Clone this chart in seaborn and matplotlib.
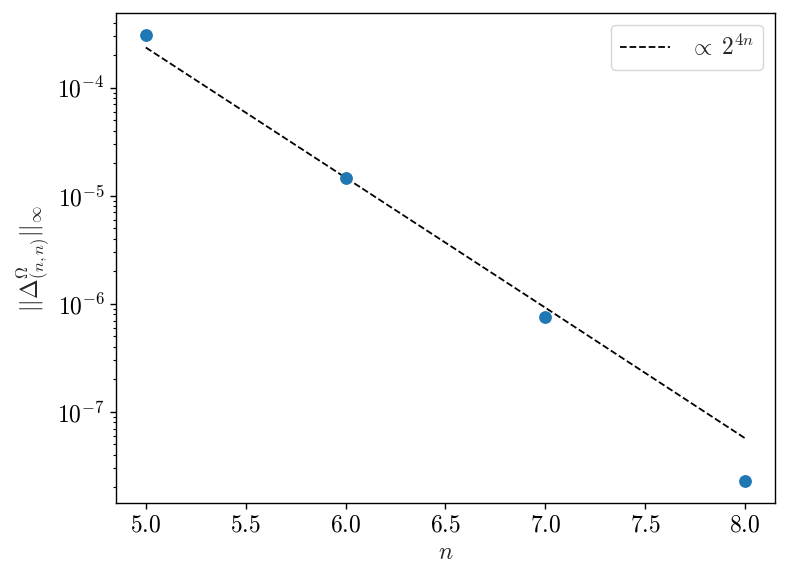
import numpy as np
import pandas as pd
import matplotlib
matplotlib.use("Agg")
import matplotlib.pyplot as plt
import seaborn as sns

# Datos.
n_vals = [5, 6, 7, 8]
error_inf = [3.06e-4, 1.46e-5, 7.6e-7, 2.3e-8]
ajuste = [2.35e-4, 1.47e-5, 9.2e-7, 5.7e-8]

df = pd.DataFrame({"n": n_vals, "error": error_inf, "ajuste": ajuste})

sns.set_style("ticks", {"axes.edgecolor": "black", "xtick.color": "black",
                        "ytick.color": "black"})
plt.rcParams["font.family"] = "serif"
plt.rcParams["font.serif"] = ["cmr10", "DejaVu Serif"]
plt.rcParams["mathtext.fontset"] = "cm"
plt.rcParams["axes.formatter.use_mathtext"] = True
plt.rcParams["axes.unicode_minus"] = False

fig, ax = plt.subplots(figsize=(7.88, 5.83), dpi=100)
fig.subplots_adjust(left=0.147, right=0.9835, top=0.978, bottom=0.137)

sns.lineplot(x="n", y="ajuste", data=df, ax=ax, color="black", linestyle="--",
             linewidth=1.3, label=r"$\propto\;2^{4n}$")
sns.scatterplot(x="n", y="error", data=df, ax=ax, color="#1f77b4", s=85,
                linewidth=0, zorder=3)
ax.set_yscale("log")

ax.set_xlabel(r"$n$", fontsize=17)
ax.set_ylabel(r"$||\Delta^{\Omega}_{(n,n)}||_\infty$", fontsize=17)
ax.tick_params(axis="both", which="major", labelsize=17, length=4.5, width=1)
ax.tick_params(axis="y", which="minor", length=2.5, width=0.8)
for s in ax.spines.values():
    s.set_linewidth(1.0)

ax.legend(loc="upper right", fontsize=17, frameon=True, fancybox=True,
          edgecolor="#cccccc", handlelength=2.1)

fig.savefig("out.png", dpi=100)
